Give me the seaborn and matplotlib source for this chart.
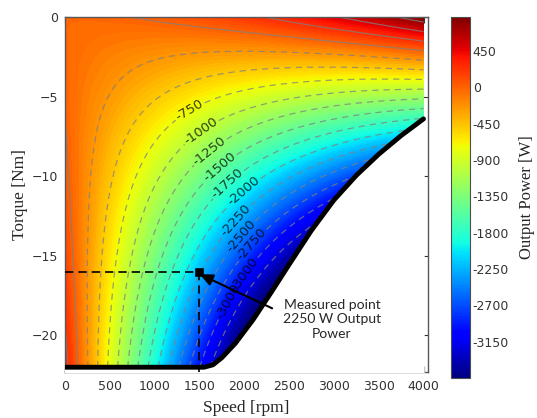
import numpy as np
import matplotlib
matplotlib.use("Agg")
import matplotlib.pyplot as plt
import matplotlib.tri as mtri
from matplotlib.ticker import FuncFormatter
import seaborn as sns

# ---------------- data ----------------
speed_rpm = [0, 500, 1000, 1500, 2000, 2500, 3000, 3500, 4000]
torque_nm = [0, -2, -4, -6, -8, -10, -12, -14, -16, -18, -20, -22]

# output power [W], one row per torque value, columns follow speed_rpm
power_t0 = [-30, -16, 27, 98, 198, 326, 483, 668, 882]
power_t2 = [-27, -118, -179, -213, -218, -195, -142, -62, 47]
power_t4 = [-18, -213, -380, -518, -628, -709, -762, -786, -782]
power_t6 = [-3, -303, -574, -818, -1032, -1218, -1375, -1504, -1604]
power_t8 = [18, -387, -763, -1111, -1430, -1720, -1982, -2216, -2421]
power_t10 = [45, -465, -945, -1398, -1821, -2217, -2584, -2922, -3232]
power_t12 = [78, -536, -1122, -1679, -2207, -2708, -3179, -3622, -4037]
power_t14 = [117, -602, -1292, -1954, -2587, -3192, -3768, -4316, -4835]
power_t16 = [162, -662, -1456, -2223, -2961, -3671, -4352, -5004, -5628]
power_t18 = [213, -716, -1615, -2486, -3329, -4143, -4929, -5686, -6415]
power_t20 = [270, -763, -1767, -2744, -3691, -4610, -5500, -6362, -7196]
power_t22 = [333, -805, -1914, -2995, -4047, -5071, -6066, -7032, -7970]

# operating limit (black curve)
boundary_speed = [0, 1550, 1650, 1750, 1900, 2100, 2300, 2500, 2750, 3000, 3250, 3500, 3750, 4000]
boundary_torque = [-22, -22, -21.85, -21.4, -20.5, -19.0, -17.3, -15.55, -13.4,
                   -11.5, -9.95, -8.62, -7.45, -6.4]

# measured point
meas_speed = 1500
meas_torque = -16
meas_text = "Measured point\n2250 W Output\nPower"

contour_levels = list(range(-3250, 751, 250))
label_levels = list(range(-3250, -749, 250))
cbar_ticks = [450, 0, -450, -900, -1350, -1800, -2250, -2700, -3150]
x_ticks = [0, 500, 1000, 1500, 2000, 2500, 3000, 3500, 4000]
y_ticks = [0, -5, -10, -15, -20]

# ---------------- style ----------------
sns.set_style("ticks")
plt.rcParams["font.family"] = ["DejaVu Sans"]
plt.rcParams["lines.dashed_pattern"] = [5.0, 4.0]

VMIN, VMAX = -3600, 870
fill_levels = np.linspace(VMIN, VMAX, 120)

fig = plt.figure(figsize=(5.37, 4.18), dpi=100)
ax = fig.add_axes([65 / 537, 46 / 418, 363 / 537, 355 / 418])
cax = fig.add_axes([451 / 537, 40 / 418, 19 / 537, 361 / 418])

power_grid = np.array([power_t0, power_t2, power_t4, power_t6, power_t8, power_t10,
                       power_t12, power_t14, power_t16, power_t18, power_t20, power_t22],
                      dtype=float)
N, T = np.meshgrid(np.array(speed_rpm, float), np.array(torque_nm, float))
tri = mtri.Triangulation(N.ravel(), T.ravel())
refiner = mtri.UniformTriRefiner(tri)
tri_f, z_f = refiner.refine_field(power_grid.ravel(), subdiv=4)

tcf = ax.tricontourf(tri_f, z_f, levels=fill_levels, cmap="jet",
                     vmin=VMIN, vmax=VMAX, extend="both", zorder=1)
cs = ax.tricontour(tri_f, z_f, levels=contour_levels, colors="0.5",
                   linewidths=0.9, alpha=0.75, zorder=2)

label_pos = [(1367, -5.66), (1467, -6.79), (1578, -8.18), (1689, -9.18),
             (1767, -10.19), (1967, -10.75), (1878, -12.64), (1922, -13.58),
             (2056, -14.15), (1978, -16.04), (1867, -17.99)]
lbls = ax.clabel(cs, levels=label_levels, manual=label_pos, fmt="%d",
                 fontsize=9.5, colors="black", inline=True, inline_spacing=2)

# region outside the operating limit
ax.fill_between(boundary_speed, boundary_torque, -30, color="white", zorder=3)
sns.lineplot(x=boundary_speed, y=boundary_torque, ax=ax, color="black",
             linewidth=3.5, estimator=None, sort=False, zorder=4)

# measured point guides
ax.plot([0, meas_speed], [meas_torque, meas_torque], color="black",
        linestyle=(0, (5, 3)), linewidth=1.2, zorder=5)
ax.plot([meas_speed, meas_speed], [meas_torque, -30], color="black",
        linestyle=(0, (5, 3)), linewidth=1.2, zorder=5)
sns.scatterplot(x=[meas_speed], y=[meas_torque], ax=ax, marker="s", s=30,
                color="black", edgecolor="black", zorder=6)
ax.annotate("", xy=(meas_speed, meas_torque - 0.15), xytext=(2311, -18.3),
            arrowprops=dict(arrowstyle="-|>,head_length=0.8,head_width=0.35",
                            color="black", lw=1.5, shrinkA=0, shrinkB=0),
            zorder=6)
ax.text(2978, -19.0, meas_text, ha="center", va="center", fontsize=10,
        family="Lato", linespacing=1.25, zorder=6)

ax.set_xlim(0, 4050)
ax.set_ylim(-22.3, 0)
ax.set_xticks(x_ticks)
ax.set_yticks(y_ticks)
ax.tick_params(direction="in", top=True, right=True, length=4, width=0.8,
               labelsize=9, colors="0.2")
ax.tick_params(axis="x", pad=6)
ax.tick_params(axis="y", pad=5)
for sp in ax.spines.values():
    sp.set_visible(True)
    sp.set_color("0.35")
    sp.set_linewidth(1.0)
ax.set_xlabel("Speed [rpm]", family="Liberation Serif", fontsize=12.5, labelpad=5)
ax.set_ylabel("Torque [Nm]", family="Liberation Serif", fontsize=12.5, labelpad=3)

sm = plt.cm.ScalarMappable(norm=plt.Normalize(VMIN, VMAX), cmap="jet")
cb = fig.colorbar(sm, cax=cax, ticks=cbar_ticks)
cb.ax.yaxis.set_major_formatter(FuncFormatter(lambda v, p: f"{int(round(v))}"))
cb.ax.tick_params(direction="in", length=3, labelsize=9, colors="0.2", pad=2)
cb.outline.set_edgecolor("0.3")
cb.set_label("Output Power [W]", family="Liberation Serif", fontsize=12, labelpad=7)

fig.savefig("out.png", dpi=100)
